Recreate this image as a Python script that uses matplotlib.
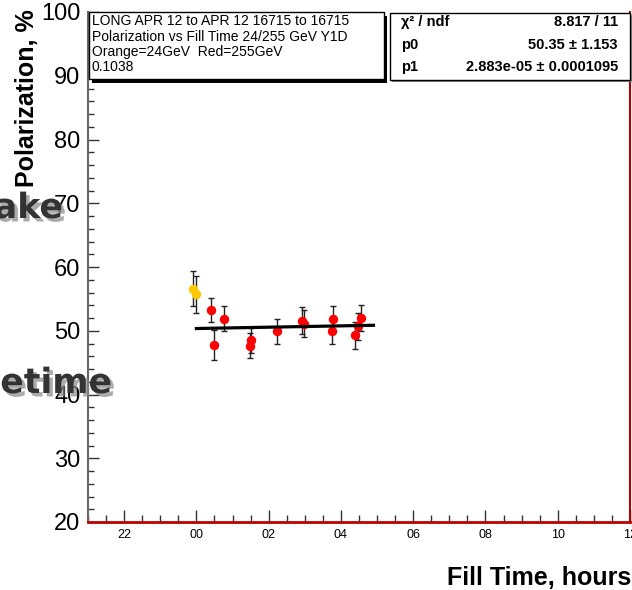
import numpy as np
import matplotlib
matplotlib.use("Agg")
import matplotlib.pyplot as plt
import matplotlib.patheffects as pe
from matplotlib.patches import Rectangle
from matplotlib.ticker import MultipleLocator, FuncFormatter

plt.rcParams["font.family"] = ["Liberation Sans", "DejaVu Sans"]

# fill time in hours relative to midnight, polarization in %
yellow_h = [-0.10, -0.01]
yellow_pol = [56.6, 55.7]
yellow_err = [2.75, 2.85]

red_h = [0.40, 0.49, 0.76, 1.49, 1.51, 2.22, 2.93, 2.97, 3.74, 3.79, 4.38, 4.46, 4.55]
red_pol = [53.3, 47.7, 51.9, 47.65, 48.5, 49.9, 51.6, 51.1, 49.9, 51.9, 49.3, 50.7, 52.0]
red_err = [1.9, 2.35, 2.0, 2.0, 2.0, 2.0, 2.1, 2.1, 1.9, 2.0, 2.1, 2.1, 2.1]

# linear fit: p0 + p1 * t[s]
p0, p0_err = 50.35, 1.153
p1, p1_err = 2.883e-05, 0.0001095
chi2, ndf = 8.817, 11
fit_range = [0.0, 4.9]

info_lines = ["LONG APR 12 to APR 12 16715 to 16715",
              "Polarization vs Fill Time 24/255 GeV Y1D",
              "Orange=24GeV  Red=255GeV",
              "0.1038"]

W, H = 632, 590
fig = plt.figure(figsize=(W / 100, H / 100), dpi=100)


def fx(px):
    return px / W


def fy(py):
    return 1 - py / H


ax = fig.add_axes([fx(88), fy(522), fx(630 - 88), (522 - 12) / H])
ax.set_xlim(-3, 12)
ax.set_ylim(20, 100)

ax.errorbar(red_h, red_pol, yerr=red_err, fmt="o", color="#ff0000", ms=5.8, mec="#ff0000",
            ecolor="#222222", elinewidth=1, capsize=2.5, capthick=1, zorder=3)
ax.errorbar(yellow_h, yellow_pol, yerr=yellow_err, fmt="o", color="#ffc800", ms=5.8, mec="#ffc800",
            ecolor="#222222", elinewidth=1, capsize=2.5, capthick=1, zorder=3)

tf = np.linspace(fit_range[0], fit_range[1], 50)
ax.plot(tf, p0 + p1 * tf * 3600, color="black", lw=2.3, zorder=4)

ax.xaxis.set_major_locator(MultipleLocator(2))
ax.xaxis.set_minor_locator(MultipleLocator(0.5))
ax.xaxis.set_major_formatter(FuncFormatter(lambda v, p: "%02d" % (int(round(v)) % 24)))
ax.yaxis.set_major_locator(MultipleLocator(10))
ax.yaxis.set_minor_locator(MultipleLocator(2))

ax.tick_params(axis="x", which="major", direction="in", length=9, width=1, color="#333333",
               labelsize=9, pad=5)
ax.tick_params(axis="x", which="minor", direction="in", length=5, width=1, color="#333333")
ax.tick_params(axis="y", which="major", direction="in", length=8, width=1, color="#333333",
               labelsize=17, pad=5.5)
ax.tick_params(axis="y", which="minor", direction="in", length=4.5, width=1, color="#333333")

ax.spines["top"].set_visible(False)
ax.spines["left"].set_color("#666666")
ax.spines["left"].set_linewidth(1.5)
ax.spines["bottom"].set_color("#c00000")
ax.spines["bottom"].set_linewidth(2)
ax.spines["right"].set_color("#b00000")
ax.spines["right"].set_linewidth(1.5)

fig.text(fx(27), fy(98), "Polarization, %", rotation=90, ha="center", va="center",
         fontsize=18, fontweight="bold")
fig.text(fx(631), fy(578), "Fill Time, hours", ha="right", va="center",
         fontsize=18, fontweight="bold")

# info box with heavy shadow
fig.patches.append(Rectangle((fx(92), fy(83)), fx(384 - 89), (79 - 12) / H,
                             transform=fig.transFigure, facecolor="black", edgecolor="none", zorder=1))
fig.patches.append(Rectangle((fx(89), fy(79)), fx(384 - 89), (79 - 12) / H,
                             transform=fig.transFigure, facecolor="white", edgecolor="black",
                             lw=1, zorder=2))
for line, py in zip(info_lines, [21, 37, 52, 67]):
    fig.text(fx(92), fy(py), line, ha="left", va="center", fontsize=10, zorder=5)

# fit statistics box
fig.patches.append(Rectangle((fx(392), fy(82)), fx(630 - 390), (80 - 13) / H,
                             transform=fig.transFigure, facecolor="#888888", edgecolor="none", zorder=1))
fig.patches.append(Rectangle((fx(390), fy(80)), fx(630 - 390), (80 - 13) / H,
                             transform=fig.transFigure, facecolor="white", edgecolor="black",
                             lw=1, zorder=2))
stats = [("\u03c7\u00b2 / ndf", "%.3f / %d" % (chi2, ndf)),
         ("p0", "%.2f \u00b1 %.3f" % (p0, p0_err)),
         ("p1", "%.3e \u00b1 %.7f" % (p1, p1_err))]
for (name, val), py in zip(stats, [22, 45, 67]):
    fig.text(fx(401), fy(py), name, ha="left", va="center", fontsize=10.5, fontweight="bold", zorder=5)
    fig.text(fx(618), fy(py), val, ha="right", va="center", fontsize=10.5, fontweight="bold", zorder=5)

# slide title fragments overlapping on the left
shadow = [pe.withSimplePatchShadow(offset=(2.5, -2.5), shadow_rgbFace="#888888", alpha=0.7)]
fig.text(fx(63), fy(218), "ake", ha="right", va="baseline", fontsize=25, fontweight="bold",
         color="#333333", family="DejaVu Sans", path_effects=shadow, zorder=6)
fig.text(fx(112), fy(393), "etime", ha="right", va="baseline", fontsize=25, fontweight="bold",
         color="#333333", family="DejaVu Sans", path_effects=shadow, zorder=6)

fig.savefig("out.png", dpi=100)
